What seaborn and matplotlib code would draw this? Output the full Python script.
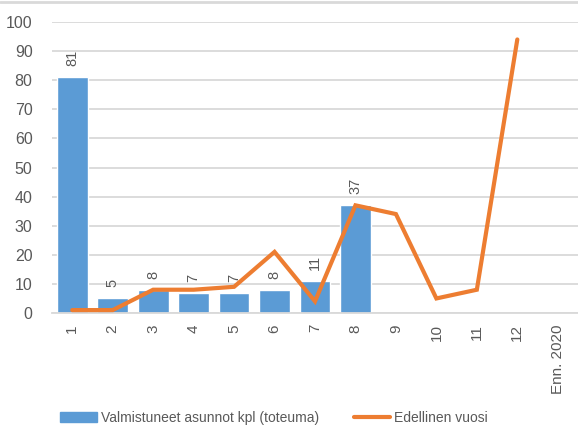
import matplotlib
matplotlib.use("Agg")
import matplotlib.pyplot as plt
import seaborn as sns
import pandas as pd
from matplotlib.lines import Line2D

categories = ["1", "2", "3", "4", "5", "6", "7", "8", "9", "10", "11", "12", "Enn. 2020"]
bar_values = [81, 5, 8, 7, 7, 8, 11, 37, None, None, None, None, None]
line_values = [1, 1, 8, 8, 9, 21, 4, 37, 34, 5, 8, 94, None]
bar_name = "Valmistuneet asunnot kpl (toteuma)"
line_name = "Edellinen vuosi"

sns.set_theme(style="white")
plt.rcParams['font.family'] = ['Liberation Sans', 'DejaVu Sans']

BLUE = "#5B9BD5"
ORANGE = "#ED7D31"
GRAY = "#595959"

df = pd.DataFrame({"cat": categories, "bar": bar_values, "line": line_values})

fig = plt.figure(figsize=(5.78, 4.34), dpi=100)
ax = fig.add_axes([52/578, 1 - 313/434, (578 - 52)/578, (313 - 22)/434])

sns.barplot(data=df, x="cat", y="bar", color=BLUE, width=0.76, saturation=1, ax=ax, order=categories)
ax.plot(range(len(categories)), df["line"], color=ORANGE, lw=3, solid_joinstyle="miter", zorder=5)

for i, v in enumerate(bar_values):
    if v is not None:
        ax.annotate(str(v), (i, v), xytext=(0, 8), textcoords="offset points", rotation=90,
                    ha="center", va="bottom", fontsize=10.5, color=GRAY)

ax.set_ylim(0, 100)
ax.set_yticks(range(0, 101, 10))
ax.set_xlim(-0.5, len(categories) - 0.5)
ax.yaxis.grid(True, color="#D9D9D9", lw=1.3)
ax.set_axisbelow(True)
for s in ["top", "right", "left"]:
    ax.spines[s].set_visible(False)
ax.spines["bottom"].set_color("#D9D9D9")
ax.spines["bottom"].set_linewidth(1.3)
ax.set_xlabel("")
ax.set_ylabel("")
ax.tick_params(axis="y", labelsize=11.5, colors=GRAY, length=0, pad=14)
ax.tick_params(axis="x", labelsize=11, colors=GRAY, length=0, pad=8)
plt.setp(ax.get_xticklabels(), rotation=90, va="top")
plt.setp(ax.get_yticklabels(), ha="right")

handles = [plt.Rectangle((0, 0), 1, 1, color=BLUE), Line2D([0], [0], color=ORANGE, lw=3)]
fig.legend(handles, [bar_name, line_name], loc="center", bbox_to_anchor=(0.474, 1 - 418/434),
           ncol=2, frameon=False, fontsize=10, labelcolor=GRAY, handlelength=2.6,
           columnspacing=2.5, handletextpad=0.3)

fig.add_artist(Line2D([0, 1], [1 - 2/434, 1 - 2/434], color="#D9D9D9", lw=2, transform=fig.transFigure))

fig.savefig("out.png", dpi=100)
